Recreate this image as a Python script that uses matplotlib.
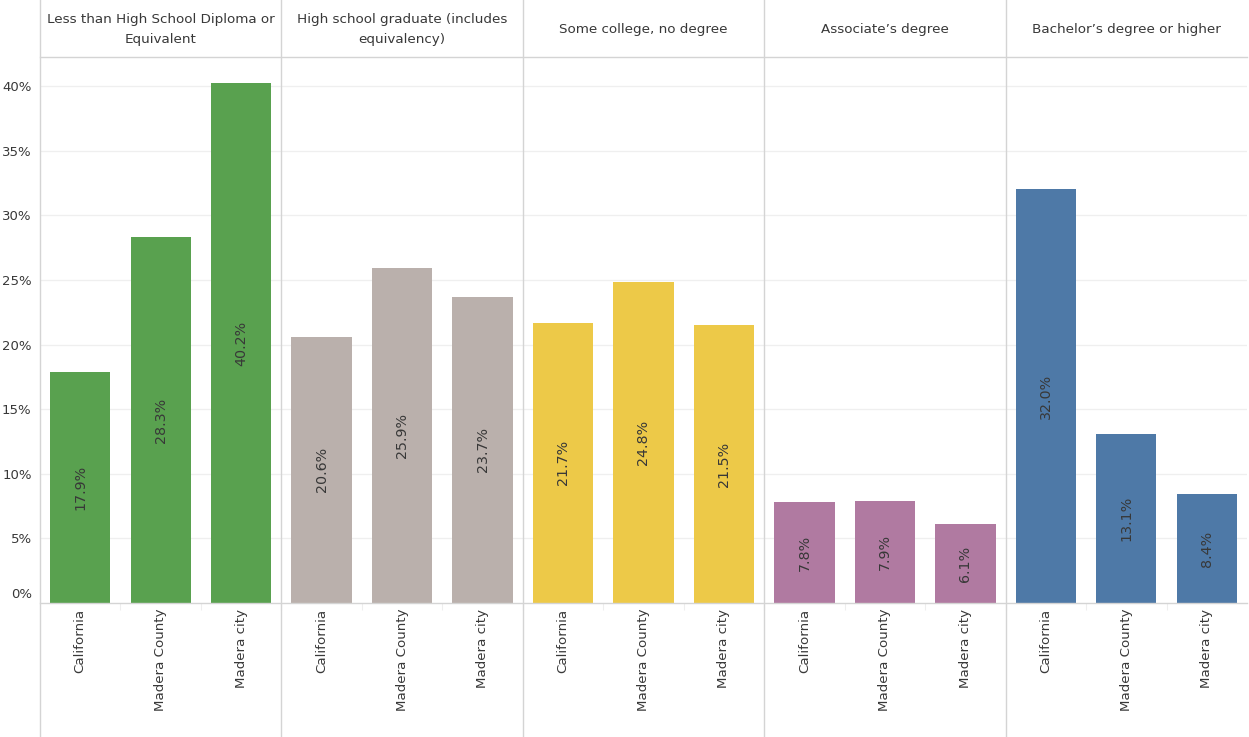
import matplotlib.pyplot as plt
from matplotlib.lines import Line2D
import matplotlib.transforms as mtransforms
import numpy as np

plt.rcParams['font.family'] = ['DejaVu Sans']

groups = [
    "Less than High School Diploma or\nEquivalent",
    "High school graduate (includes\nequivalency)",
    "Some college, no degree",
    "Associate\u2019s degree",
    "Bachelor\u2019s degree or higher",
]
places = ["California", "Madera County", "Madera city"]
values = [
    [17.9, 28.3, 40.2],
    [20.6, 25.9, 23.7],
    [21.7, 24.8, 21.5],
    [7.8, 7.9, 6.1],
    [32.0, 13.1, 8.4],
]
colors = ["#59A14F", "#BAB0AC", "#EDC948", "#B07AA1", "#4E79A7"]
y_ticks = [0, 5, 10, 15, 20, 25, 30, 35, 40]

W, H = 1249, 737
fig = plt.figure(figsize=(W / 100, H / 100), dpi=100)

left_px, right_px = 40, 1247
top_px, base_px = 57, 603
ax = fig.add_axes([left_px / W, (H - base_px) / H,
                   (right_px - left_px) / W, (base_px - top_px) / H])

text_col = "#383838"
grid_col = "#EFEFEF"
line_col = "#D4D4D4"

n_groups = len(groups)
n_places = len(places)
n_slots = n_groups * n_places

positions = []
for g, (vals, col) in enumerate(zip(values, colors)):
    xs = np.arange(n_places) + g * n_places + 0.5
    positions.extend(xs)
    ax.bar(xs, vals, width=0.75, color=col, zorder=2)
    for x, v in zip(xs, vals):
        ax.text(x, v / 2, f"{v:.1f}%", rotation=90, ha="center", va="center",
                fontsize=10.3, color=text_col, zorder=3)

ymax = (base_px - top_px) / ((base_px - 86) / 40)
ax.set_xlim(0, n_slots)
ax.set_ylim(0, ymax)

for t in y_ticks[1:]:
    ax.axhline(t, color=grid_col, lw=0.9, zorder=0)
ax.set_yticks(y_ticks)
ax.set_yticklabels([f"{t}%" for t in y_ticks], fontsize=9.5, color=text_col)
ax.tick_params(axis="y", length=0, pad=6)
# keep the 0% label off the baseline
lbls = ax.get_yticklabels()
lbls[0].set_transform(lbls[0].get_transform() +
                      mtransforms.ScaledTranslation(0, 10 / 100, fig.dpi_scale_trans))

ax.set_xticks(positions)
ax.set_xticklabels(places * n_groups, rotation=90, fontsize=9.6, color=text_col,
                   va="top", ha="center")
ax.tick_params(axis="x", length=0, pad=4)
ax.set_xticks(np.arange(1, n_slots), minor=True)
ax.tick_params(axis="x", which="minor", length=5, color="#EEEEEE", width=0.8)

for s in ["top", "right", "left"]:
    ax.spines[s].set_visible(False)
ax.spines["bottom"].set_color(line_col)
ax.spines["bottom"].set_linewidth(1.0)

# panel dividers spanning header, plot and label area
panel_w = (right_px - left_px) / n_groups
for g in range(n_groups):
    xp = left_px + g * panel_w
    fig.add_artist(Line2D([xp / W, xp / W], [0, 1], color=line_col, lw=1.0,
                          transform=fig.transFigure))
fig.add_artist(Line2D([left_px / W, right_px / W], [(H - top_px) / H] * 2,
                      color=line_col, lw=1.0, transform=fig.transFigure))

for g, name in enumerate(groups):
    xc = left_px + (g + 0.5) * panel_w
    fig.text(xc / W, (H - 29.5) / H, name, ha="center", va="center",
             fontsize=9.7, color=text_col, linespacing=1.7)

fig.savefig("out.png", dpi=100)
